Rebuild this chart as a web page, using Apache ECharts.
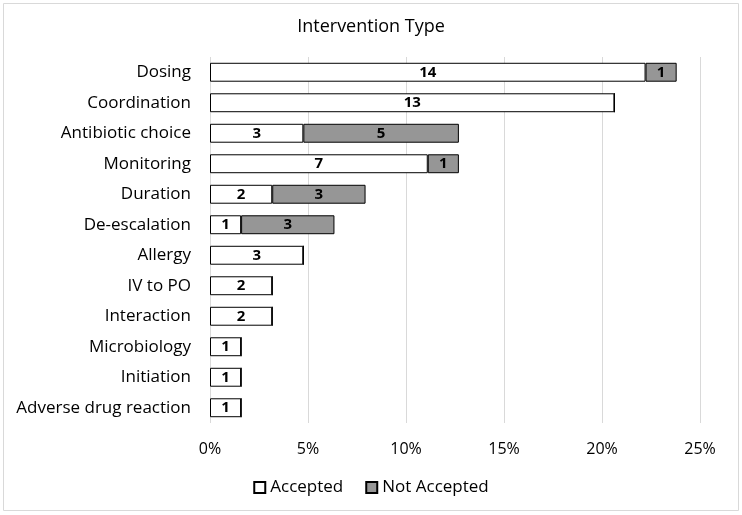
<!DOCTYPE html>
<html><head><meta charset="utf-8">
<script src="https://cdn.jsdelivr.net/npm/echarts@6/dist/echarts.min.js"></script>
<style>html,body{margin:0;padding:0;background:#fff}#c{width:742px;height:515px}</style>
</head><body><div id="c"></div>
<script>
const categories = ["Dosing","Coordination","Antibiotic choice","Monitoring","Duration","De-escalation","Allergy","IV to PO","Interaction","Microbiology","Initiation","Adverse drug reaction"];
const acceptedCounts = [14,13,3,7,2,1,3,2,2,1,1,1];
const notAcceptedCounts = [1,0,5,1,3,3,0,0,0,0,0,0];
const xTicks = [0,5,10,15,20,25];
const total = acceptedCounts.concat(notAcceptedCounts).reduce((a,b)=>a+b,0);
const toItems = arr => arr.map(c => ({value: c/total*100, count: c}));
const font = "'Open Sans', 'Noto Sans', sans-serif";
const chart = echarts.init(document.getElementById('c'));
const lbl = {show:true, position:'inside', color:'#000', fontWeight:'bold', fontSize:15, fontFamily:font,
  formatter: p => p.data.count ? String(p.data.count) : ''};
chart.setOption({
  animation:false,
  graphic:[{type:'rect', shape:{x:3.5,y:3.5,width:735,height:507}, style:{fill:'none', stroke:'#d9d9d9', lineWidth:1}}],
  title:{text:'Intervention Type', left:'center', top:13, textStyle:{fontFamily:font, fontWeight:'normal', fontSize:18, color:'#000'}},
  legend:{bottom:14, left:'center', itemWidth:11, itemHeight:11, itemGap:22, icon:'rect',
    textStyle:{fontFamily:font, fontSize:17, color:'#000'}, data:['Accepted','Not Accepted']},
  grid:{left:210, right:42, top:57, bottom:92, containLabel:false},
  xAxis:{type:'value', min:xTicks[0], max:xTicks[xTicks.length-1], interval:5,
    axisLabel:{formatter:'{value}%', fontFamily:font, fontSize:16, color:'#000', margin:18},
    axisLine:{show:false}, axisTick:{show:false},
    splitLine:{lineStyle:{color:'#d9d9d9', width:1}}},
  yAxis:{type:'category', inverse:true, data:categories,
    axisLine:{show:false}, axisTick:{show:false},
    axisLabel:{fontFamily:font, fontSize:17, color:'#000', margin:19}},
  series:[
    {name:'Accepted', type:'bar', stack:'a', barCategoryGap:'38%', data:toItems(acceptedCounts),
      itemStyle:{color:'#ffffff', borderColor:'#000', borderWidth:1}, label:lbl},
    {name:'Not Accepted', type:'bar', stack:'a', data:toItems(notAcceptedCounts),
      itemStyle:{color:'#969696', borderColor:'#000', borderWidth:1}, label:lbl}
  ]
});
</script></body></html>
